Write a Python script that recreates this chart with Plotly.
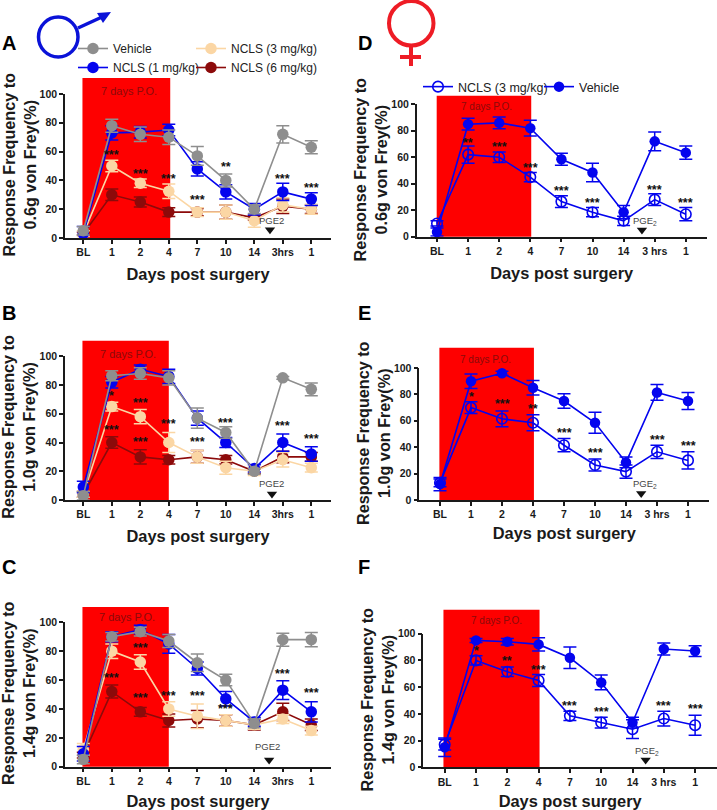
import plotly.graph_objects as go

W, H = 717, 810
FONT = "Liberation Sans"

labels_m = ["BL", "1", "2", "4", "7", "10", "14", "3hrs", "1"]
labels_f = ["BL", "1", "2", "4", "7", "10", "14", "3 hrs", "1"]
y_ticks = [0, 20, 40, 60, 80, 100]

GRAY, BLUE, PEACH, DRED = "#8e8e8e", "#0404ee", "#fbd6a4", "#8c0a0a"
RED = "#fe0000"

# ---------- panel A ----------
a_vehicle = [5, 78, 72, 70, 57, 40, 20, 72, 63]
a_vehicle_e = [3, 4.5, 5, 5, 6.5, 4.5, 3, 6, 4.5]
a_n1 = [3, 73, 73.5, 75, 48, 32, 20, 32, 27]
a_n1_e = [5, 5, 4, 4, 5, 5, 4, 6, 4.5]
a_n3 = [3, 50, 38, 32.5, 18, 18, 12, 23, 20]
a_n3_e = [2, 4, 3, 5, 3, 5, 4.5, 5, 3.5]
a_n6 = [3, 30, 25, 18, 18, 18, 14, 22, 20]
a_n6_e = [1, 4, 3.5, 3, 2.5, 5, 1.5, 5, 3]
# ---------- panel B ----------
b_vehicle = [3, 86.5, 88, 85, 57, 47, 20, 85, 77]
b_vehicle_e = [3, 3.5, 4, 5, 7, 4, 2, 1, 4.5]
b_n1 = [9, 82, 91, 86, 57, 40, 22, 40, 32]
b_n1_e = [4, 4, 3, 5, 5, 3.5, 2.5, 6, 5]
b_n3 = [4, 65, 58, 40, 30, 22.5, 20, 28, 22.5]
b_n3_e = [2, 3, 5, 7, 4.5, 4.5, 3, 5, 3]
b_n6 = [4, 40, 30, 28, 30, 28, 20, 30, 30]
b_n6_e = [2, 4, 5, 3, 4.5, 3, 1.5, 4, 3]
# ---------- panel C ----------
c_vehicle = [5, 90, 93.5, 87, 72, 60, 30, 88, 88]
c_vehicle_e = [3, 3, 3, 4.5, 6, 4, 3, 4.5, 5]
c_n1 = [9, 90, 95, 85, 68, 47, 31, 53, 38]
c_n1_e = [5, 3.5, 3, 6.5, 4.5, 5, 3, 6.5, 7]
c_n3 = [12, 80, 72.5, 40, 35, 32, 29, 33, 25]
c_n3_e = [4, 5, 5, 5, 8.5, 4, 3, 3, 3]
c_n6 = [8, 52, 38, 32, 33, 32, 29, 38, 29]
c_n6_e = [2, 4.5, 3, 4.5, 6, 4, 3.5, 6, 4]
# ---------- panel D ----------
d_vehicle = [3.5, 85, 86, 82, 58.5, 48.5, 18.5, 72, 63.5]
d_vehicle_e = [3, 4.5, 4.5, 6, 4.5, 7, 5, 7, 5]
d_n3 = [10, 62, 60, 45, 26.5, 18.5, 12, 28, 17]
d_n3_e = [2, 6.5, 4, 3.5, 4.5, 3.5, 3.5, 4.5, 5]
# ---------- panel E ----------
e_vehicle = [12, 90, 96, 85, 75, 58.5, 28.5, 81.5, 75]
e_vehicle_e = [5, 5.5, 1.5, 5.5, 5.5, 8, 4, 6, 6.5]
e_n3 = [13, 70, 61.5, 58.5, 41.5, 26.5, 21.5, 36.5, 30]
e_n3_e = [3, 4.5, 6, 6, 5, 4.5, 5, 5, 6.5]
# ---------- panel F ----------
f_vehicle = [15, 95, 94, 92, 82, 63.5, 33.5, 88.5, 87]
f_vehicle_e = [7, 1.5, 2.5, 5, 8, 5.5, 4, 4.5, 4]
f_n3 = [17, 80, 71.5, 65, 38.5, 33.5, 28.5, 36.5, 31.5]
f_n3_e = [4, 3.5, 3.5, 4.5, 3.5, 4, 7, 5.5, 7.5]

# significance marks: (category index, value height, text)
a_stars = [(1, 56.7, "***"), (2, 43.5, "***"), (3, 40, "***"), (4, 25.5, "***"),
           (5, 48.6, "**"), (7, 40.5, "***"), (8, 34, "***")]
b_stars = [(1, 72, "*"), (1, 48, "***"), (2, 67, "***"), (2, 39.5, "***"), (3, 52, "***"),
           (4, 39.5, "***"), (5, 53, "***"), (7, 51, "***"), (8, 41.5, "***")]
c_stars = [(1, 60.7, "***"), (2, 81.5, "***"), (2, 46.6, "***"), (3, 48, "***"), (4, 48, "***"),
           (5, 39, "***"), (7, 63.7, "***"), (8, 50.3, "***")]
d_stars = [(1, 70, "**"), (2, 67, "***"), (3, 51, "***"), (4, 33.7, "***"),
           (5, 25, "***"), (7, 34.8, "***"), (8, 24.7, "***")]
e_stars = [(1, 77.5, "*"), (2, 72, "***"), (3, 68, "**"), (4, 50, "***"),
           (5, 34.6, "***"), (7, 45, "***"), (8, 40, "***")]
f_stars = [(1, 86.5, "*"), (2, 78.5, "**"), (3, 72, "***"), (4, 45, "***"),
           (5, 41, "***"), (7, 45, "***"), (8, 43, "***")]

panels = [
    dict(name="A", labels=labels_m, left=65, right=331, y0=238, y100=94, bl=83.3, sp=28.5, ytx=18.5, xstand=11,
         rect=(-0.03, 3.05), top=78, po=(1.6, 1.019), po_size=11, pge=(6.62, 12.3), tri=(6.55, 5.8), pge_t="PGE2",
         ylab="Response Frequency to<br>0.6g von Frey(%)", letter=(5, 43), stars=a_stars,
         series=[("NCLS (6 mg/kg)", a_n6, a_n6_e, DRED), ("NCLS (3 mg/kg)", a_n3, a_n3_e, PEACH),
                 ("NCLS (1 mg/kg)", a_n1, a_n1_e, BLUE), ("Vehicle", a_vehicle, a_vehicle_e, GRAY)]),
    dict(name="B", labels=labels_m, left=65, right=331, y0=500, y100=356.3, bl=83.3, sp=28.5, ytx=18.5, xstand=11,
         rect=(-0.03, 3.0), top=340.7, po=(1.56, 1.014), po_size=11, pge=(6.62, 11.6), tri=(6.62, 4.2), pge_t="PGE2",
         ylab="Response Frequency to<br>1.0g von Frey(%)", letter=(5, 313), stars=b_stars,
         series=[("NCLS (6 mg/kg)", b_n6, b_n6_e, DRED), ("NCLS (3 mg/kg)", b_n3, b_n3_e, PEACH),
                 ("NCLS (1 mg/kg)", b_n1, b_n1_e, BLUE), ("Vehicle", b_vehicle, b_vehicle_e, GRAY)]),
    dict(name="C", labels=labels_m, left=65, right=331, y0=766.7, y100=622.3, bl=83.3, sp=28.5, ytx=18.5, xstand=11,
         rect=(-0.03, 3.0), top=607, po=(1.55, 1.035), po_size=11, pge=(6.46, 13.9), tri=(6.52, 4.6), pge_t="PGE2",
         ylab="Response Frequency to<br>1.4g von Frey(%)", letter=(5, 566.7), stars=c_stars,
         series=[("NCLS (6 mg/kg)", c_n6, c_n6_e, DRED), ("NCLS (3 mg/kg)", c_n3, c_n3_e, PEACH),
                 ("NCLS (1 mg/kg)", c_n1, c_n1_e, BLUE), ("Vehicle", c_vehicle, c_vehicle_e, GRAY)]),
    dict(name="D", labels=labels_f, left=416.7, right=706.7, y0=236.7, y100=104.3, bl=437, sp=31.1, ytx=370, xstand=11,
         rect=(-0.01, 3.03), top=95.7, po=(1.59, 0.98), po_size=10, pge=(6.69, 12), tri=(6.59, 5), pge_t="PGE<sub>2</sub>",
         ylab="Response Frequency to<br>0.6g von Frey(%)", letter=(361, 43), stars=d_stars,
         series=[("NCLS (3 mg/kg)", d_n3, d_n3_e, BLUE), ("Vehicle", d_vehicle, d_vehicle_e, BLUE)]),
    dict(name="E", labels=labels_f, left=419.3, right=709.3, y0=500, y100=368, bl=440, sp=31, ytx=373, xstand=8,
         rect=(-0.02, 3.03), top=347.7, po=(1.47, 1.068), po_size=10, pge=(6.6, 12), tri=(6.49, 5), pge_t="PGE<sub>2</sub>",
         ylab="Response Frequency to<br>1.0g von Frey(%)", letter=(361, 313), stars=e_stars,
         series=[("NCLS (3 mg/kg)", e_n3, e_n3_e, BLUE), ("Vehicle", e_vehicle, e_vehicle_e, BLUE)]),
    dict(name="F", labels=labels_f, left=423.3, right=717, y0=767.3, y100=633.7, bl=444.7, sp=31.3, ytx=377, xstand=11,
         rect=(-0.04, 3.03), top=609.7, po=(1.67, 1.10), po_size=10, pge=(6.46, 12.5), tri=(6.42, 5.5), pge_t="PGE<sub>2</sub>",
         ylab="Response Frequency to<br>1.4g von Frey(%)", letter=(361, 566.7), stars=f_stars,
         series=[("NCLS (3 mg/kg)", f_n3, f_n3_e, BLUE), ("Vehicle", f_vehicle, f_vehicle_e, BLUE)]),
]

fig = go.Figure()
shapes, annotations = [], []
layout = {}

def px(x):
    return x / W

def py(y):
    return 1 - y / H

for k, p in enumerate(panels):
    suffix = "" if k == 0 else str(k + 1)
    xa, ya = "xaxis" + suffix, "yaxis" + suffix
    xr, yr = "x" + suffix, "y" + suffix
    positions = list(range(len(p["labels"])))
    layout[xa] = dict(
        domain=[px(p["left"]), px(p["right"])], anchor=yr,
        range=[(p["left"] - p["bl"]) / p["sp"], (p["right"] - p["bl"]) / p["sp"]],
        tickmode="array", tickvals=positions, ticktext=p["labels"],
        showgrid=False, zeroline=False, showline=True, linecolor="#1a1a1a", linewidth=1.5,
        ticks="outside", ticklen=4, tickwidth=1.5, tickcolor="#1a1a1a",
        tickfont=dict(family=FONT, size=10.5, color="#1a1a1a", weight="bold"),
        title=dict(text="<b>Days post surgery</b>", font=dict(family=FONT, size=16.4, color="#1a1a1a"),
                   standoff=p["xstand"]),
    )
    layout[ya] = dict(
        domain=[py(p["y0"]), py(p["y100"])], anchor=xr,
        range=[0, 100], tickmode="array", tickvals=y_ticks,
        showgrid=False, zeroline=False, showline=True, linecolor="#1a1a1a", linewidth=1.5,
        ticks="outside", ticklen=4, tickwidth=1.5, tickcolor="#1a1a1a",
        tickfont=dict(family=FONT, size=10.5, color="#1a1a1a", weight="bold"),
    )
    annotations.append(dict(x=px(p["ytx"]), y=py((p["y0"] + p["y100"]) / 2 - 1), xref="paper", yref="paper",
                            xanchor="center", yanchor="middle", textangle=-90, align="center", showarrow=False,
                            text="<b>" + p["ylab"].replace("<br>", "</b><br><b>") + "</b>",
                            font=dict(family=FONT, size=16.2, color="#1a1a1a")))
    dom_top = (p["y0"] - p["top"]) / (p["y0"] - p["y100"])
    shapes.append(dict(type="rect", xref=xr, yref=yr + " domain", x0=p["rect"][0], x1=p["rect"][1],
                       y0=0, y1=dom_top, fillcolor=RED, line=dict(width=0), layer="below"))

    female = p["name"] in "DEF"
    for name, vals, errs, col in p["series"]:
        opened = female and name.startswith("NCLS")
        legend = None
        if p["name"] == "A":
            legend = "legend" if name in ("Vehicle", "NCLS (1 mg/kg)") else "legend2"
        elif p["name"] == "D":
            legend = "legend3"
        fig.add_trace(go.Scatter(
            x=positions, y=vals, name=name, xaxis=xr, yaxis=yr, mode="lines+markers",
            line=dict(color=col, width=1.6),
            marker=dict(color=col, size=10.5 if female else 11.5,
                        symbol="circle-open" if opened else "circle",
                        line=dict(color=col, width=1.6 if opened else 0)),
            error_y=dict(type="data", array=errs, visible=True, color=col, thickness=1.5, width=6.5),
            cliponaxis=False, showlegend=legend is not None, legend=legend or "legend",
            legendrank={"Vehicle": 1, "NCLS (1 mg/kg)": 2, "NCLS (3 mg/kg)": 1, "NCLS (6 mg/kg)": 2}[name]
            if not female else (1 if opened else 2),
        ))
    # PGE arrowhead
    fig.add_trace(go.Scatter(x=[p["tri"][0]], y=[p["tri"][1]], xaxis=xr, yaxis=yr, mode="markers",
                             marker=dict(symbol="triangle-down", color="#111111", size=9),
                             showlegend=False, cliponaxis=False, hoverinfo="skip"))
    annotations.append(dict(x=p["pge"][0], y=p["pge"][1], xref=xr, yref=yr, text=p["pge_t"], showarrow=False,
                            font=dict(family=FONT, size=9.5, color="#444444")))
    annotations.append(dict(x=p["po"][0], y=p["po"][1], xref=xr, yref=yr + " domain", yanchor="middle",
                            text="7 days P.O.", showarrow=False,
                            font=dict(family=FONT, size=p["po_size"], color="#8c0a0a")))
    for i, v, s in p["stars"]:
        annotations.append(dict(x=i, y=v, xref=xr, yref=yr, text="<b>%s</b>" % s, showarrow=False, yshift=1,
                                font=dict(family=FONT, size=12.5, color="#111111")))
    annotations.append(dict(x=px(p["letter"][0] - 5), y=py(p["letter"][1]), xref="paper", yref="paper",
                            xanchor="left", yanchor="middle", text="<b>%s</b>" % p["name"], showarrow=False,
                            font=dict(family=FONT, size=20, color="black")))

# sex symbols
MALE, FEMALE = "#0a12d8", "#ee1c25"
shapes += [
    dict(type="circle", xref="paper", yref="paper", x0=px(38.5), x1=px(78), y0=py(57), y1=py(17),
         line=dict(color=MALE, width=3.5)),
    dict(type="line", xref="paper", yref="paper", x0=px(78), x1=px(102), y0=py(28), y1=py(17),
         line=dict(color=MALE, width=3.5)),
    dict(type="path", xref="paper", yref="paper", fillcolor=MALE, line=dict(width=0),
         path="M %f %f L %f %f L %f %f Z" % (px(97), py(13), px(111), py(12), px(103), py(23))),
    dict(type="circle", xref="paper", yref="paper", x0=px(389), x1=px(433.5), y0=py(45.5), y1=py(1),
         line=dict(color=FEMALE, width=4)),
    dict(type="line", xref="paper", yref="paper", x0=px(411), x1=px(411), y0=py(45.5), y1=py(66),
         line=dict(color=FEMALE, width=4)),
    dict(type="line", xref="paper", yref="paper", x0=px(400), x1=px(421), y0=py(57), y1=py(57),
         line=dict(color=FEMALE, width=4)),
]

legend_common = dict(bgcolor="rgba(0,0,0,0)", font=dict(family=FONT, size=12, color="#222222"),
                     itemwidth=30, xanchor="left", yanchor="top", tracegroupgap=0, traceorder="normal",
                     xref="paper", yref="paper")

fig.update_layout(
    width=W, height=H, margin=dict(l=0, r=0, t=0, b=0, autoexpand=False), autosize=False,
    paper_bgcolor="white", plot_bgcolor="rgba(0,0,0,0)",
    font=dict(family=FONT), shapes=shapes, annotations=annotations,
    legend=dict(x=px(73), y=py(34), **legend_common),
    legend2=dict(x=px(191), y=py(34), **legend_common),
    legend3=dict(x=px(418), y=py(72), orientation="h", entrywidth=76, entrywidthmode="pixels",
                 **{**legend_common, "font": dict(family=FONT, size=12.5, color="#222222")}),
    **layout,
)
fig.write_html("out.html", config=dict(displayModeBar=False), post_script="document.body.style.margin='0';")
